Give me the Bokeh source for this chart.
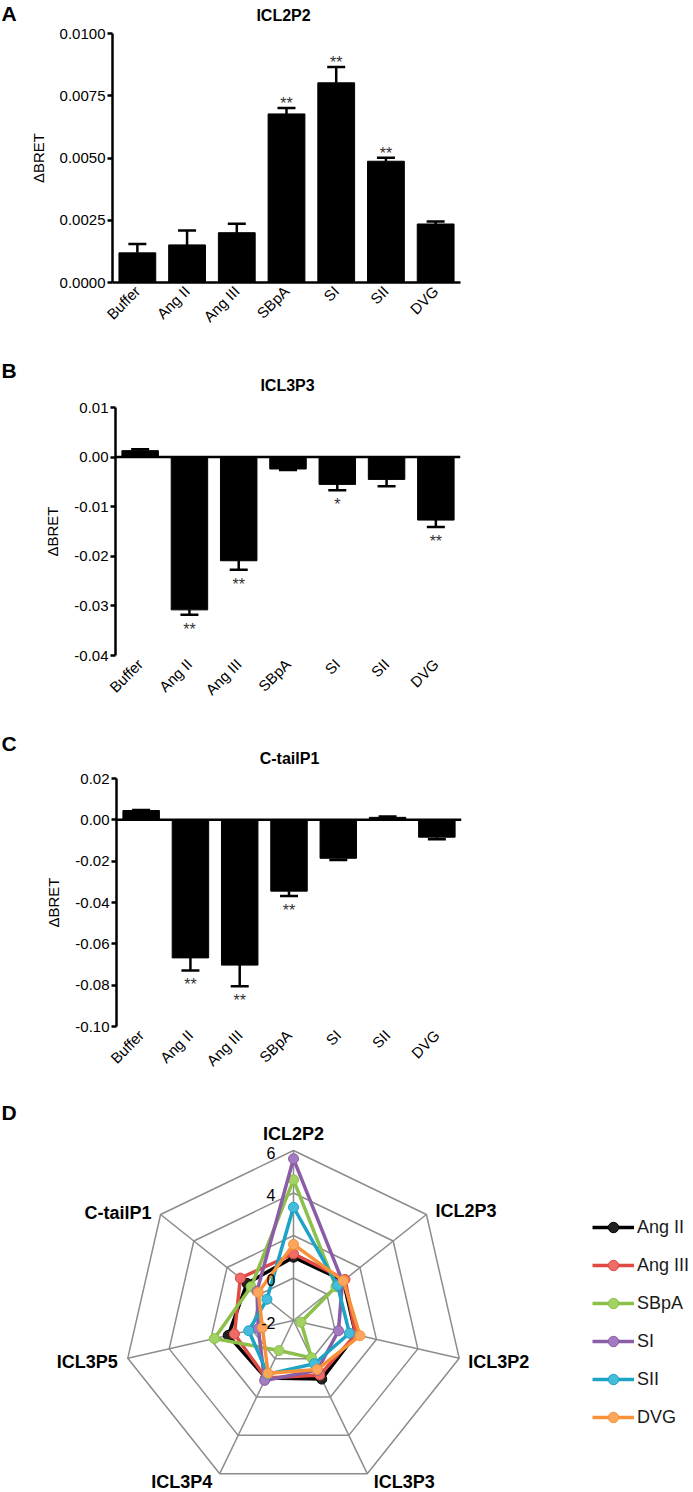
import math
from bokeh.plotting import figure
from bokeh.layouts import column
from bokeh.models import (ColumnDataSource, FactorRange, Range1d, FixedTicker,
                          NumeralTickFormatter, Span, Whisker, TeeHead,
                          Legend, LegendItem)
from bokeh.core.properties import value
from bokeh.embed import file_html
from bokeh.resources import INLINE

FONT = "Liberation Sans"

# ---------------- data ----------------
categories = ["Buffer", "Ang II", "Ang III", "SBpA", "SI", "SII", "DVG"]

icl2p2_mean = [0.00119, 0.00151, 0.00200, 0.00677, 0.00802, 0.00487, 0.00235]
icl2p2_sem = [0.00036, 0.00058, 0.00036, 0.00024, 0.00063, 0.00014, 0.00010]
icl2p2_sig = ["", "", "", "**", "**", "**", ""]
icl2p2_ticks = [0.0, 0.0025, 0.005, 0.0075, 0.01]

icl3p3_mean = [0.0013, -0.0308, -0.0209, -0.0024, -0.0055, -0.0045, -0.0127]
icl3p3_sem = [0.0003, 0.0010, 0.0018, 0.0002, 0.0012, 0.0014, 0.0014]
icl3p3_sig = ["", "**", "**", "", "*", "", "**"]
icl3p3_ticks = [0.01, 0.0, -0.01, -0.02, -0.03, -0.04]

ctail_mean = [0.0045, -0.0668, -0.0703, -0.0345, -0.0186, 0.0012, -0.0084]
ctail_sem = [0.0003, 0.0061, 0.0102, 0.0023, 0.0008, 0.0004, 0.0010]
ctail_sig = ["", "**", "**", "**", "", "", ""]
ctail_ticks = [0.02, 0.0, -0.02, -0.04, -0.06, -0.08, -0.10]

radar_axes = ["ICL2P2", "ICL2P3", "ICL3P2", "ICL3P3", "ICL3P4", "ICL3P5", "C-tailP1"]
radar_ticks = [-2, 0, 2, 4, 6]
radar_tick_labels = ["-2", "0", "", "4", "6"]   # "2" is hidden behind the series
radar_series = ["Ang II", "Ang III", "SBpA", "SI", "SII", "DVG"]
r_ang2 = [0.98, 1.00, 1.00, 1.06, 1.00, 1.15, 0.80]
r_ang3 = [1.14, 1.10, 1.00, 0.85, 1.00, 0.85, 1.20]
r_sbpa = [4.62, 0.55, -1.64, -0.05, -0.43, 1.82, 0.55]
r_si = [5.61, 0.95, 0.17, 0.60, 1.13, -0.30, 0.20]
r_sii = [3.33, 0.65, 0.70, 0.26, 0.80, 0.16, -0.40]
r_dvg = [1.58, 1.00, 1.21, 0.56, 0.76, -0.50, 0.12]
radar_values = [r_ang2, r_ang3, r_sbpa, r_si, r_sii, r_dvg]

line_colors = ["#000000", "#E04A45", "#8CC04A", "#8A5DA6", "#1CA3C5", "#F7923A"]
fill_colors = ["#222222", "#EE6B66", "#A2D262", "#A47BC0", "#45BDDA", "#FBA65A"]

W = 693


def no_align(p):
    if "frame_align" in p.properties():
        p.frame_align = False


def header(y0, y1, letter, letter_y, title, title_x, title_y):
    h = figure(width=W, height=y1 - y0, x_range=Range1d(0, W),
               y_range=Range1d(y1, y0), output_backend="svg",
               toolbar_location=None, x_axis_location=None,
               y_axis_location=None, min_border=0)
    h.outline_line_color = None
    h.grid.visible = False
    no_align(h)
    h.text(x=[1], y=[letter_y], text=[letter], text_align="left",
           text_baseline="middle", text_font=value(FONT),
           text_font_size="21px", text_font_style="bold", text_color="black")
    h.text(x=[title_x], y=[title_y], text=[title], text_align="center",
           text_baseline="middle", text_font=value(FONT),
           text_font_size="16px", text_font_style="bold", text_color="black")
    return h


def bar_panel(mean, sem, sig, y_lo, y_hi, ticks, fmt, height, borders, zero_line):
    bt, bb, bl, br = borders
    p = figure(width=W, height=height, x_range=FactorRange(factors=categories),
               y_range=Range1d(y_lo, y_hi), output_backend="svg",
               toolbar_location=None, min_border_top=bt, min_border_bottom=bb,
               min_border_left=bl, min_border_right=br)
    p.outline_line_color = None
    p.xgrid.visible = False
    p.ygrid.visible = False
    no_align(p)

    src = ColumnDataSource(dict(cat=categories, mean=mean))
    p.vbar(x="cat", top="mean", bottom=0, width=0.74, fill_color="black",
           line_color="black", source=src)

    up = [i for i, m in enumerate(mean) if m >= 0]
    dn = [i for i, m in enumerate(mean) if m < 0]
    if up:
        s_up = ColumnDataSource(dict(cat=[categories[i] for i in up],
                                     lower=[mean[i] for i in up],
                                     upper=[mean[i] + sem[i] for i in up]))
        p.add_layout(Whisker(source=s_up, base="cat", lower="lower", upper="upper",
                             dimension="height", line_width=2.5, line_color="black",
                             lower_head=None,
                             upper_head=TeeHead(size=18, line_width=2.5, line_color="black")))
    if dn:
        s_dn = ColumnDataSource(dict(cat=[categories[i] for i in dn],
                                     lower=[mean[i] - sem[i] for i in dn],
                                     upper=[mean[i] for i in dn]))
        p.add_layout(Whisker(source=s_dn, base="cat", lower="lower", upper="upper",
                             dimension="height", line_width=2.5, line_color="black",
                             upper_head=None,
                             lower_head=TeeHead(size=18, line_width=2.5, line_color="black")))

    su = [i for i in up if sig[i]]
    sd = [i for i in dn if sig[i]]
    if su:
        p.text(x=[categories[i] for i in su], y=[mean[i] + sem[i] for i in su],
               text=[sig[i] for i in su], text_align="center", text_baseline="bottom",
               y_offset=4, text_font=value(FONT), text_font_size="16px",
               text_color="#333333")
    if sd:
        p.text(x=[categories[i] for i in sd], y=[mean[i] - sem[i] for i in sd],
               text=[sig[i] for i in sd], text_align="center", text_baseline="top",
               y_offset=6, text_font=value(FONT), text_font_size="16px",
               text_color="#333333")

    if zero_line:
        p.add_layout(Span(location=0, dimension="width", line_width=2.5,
                          line_color="black"))

    yax = p.yaxis[0]
    yax.ticker = FixedTicker(ticks=ticks)
    yax.formatter = NumeralTickFormatter(format=fmt)
    yax.axis_label = "ΔBRET"
    yax.axis_label_text_font = FONT
    yax.axis_label_text_font_size = "15px"
    yax.axis_label_text_font_style = "normal"
    yax.axis_label_text_color = "black"
    yax.axis_label_standoff = 10
    yax.major_label_text_font = FONT
    yax.major_label_text_font_size = "15px"
    yax.major_label_text_color = "black"
    yax.major_label_standoff = 2
    yax.major_tick_out = 5
    yax.major_tick_in = 0
    yax.minor_tick_out = 0
    yax.minor_tick_in = 0
    yax.major_tick_line_width = 2.5
    yax.axis_line_width = 2.5

    xax = p.xaxis[0]
    xax.major_label_orientation = math.pi / 4
    xax.major_label_text_font = FONT
    xax.major_label_text_font_size = "15px"
    xax.major_label_text_color = "black"
    xax.major_label_standoff = 6
    xax.major_tick_out = 0
    xax.major_tick_in = 0
    if zero_line:
        xax.axis_line_color = None
    else:
        xax.axis_line_width = 2.5
    return p


hA = header(0, 24, "A", 13, "ICL2P2", 283, 15)
pA = bar_panel(icl2p2_mean, icl2p2_sem, icl2p2_sig, 0.0, 0.01, icl2p2_ticks,
               "0.0000", 336, (9, 78, 112, 233), False)
hB = header(360, 395, "B", 370, "ICL3P3", 287, 385)
pB = bar_panel(icl3p3_mean, icl3p3_sem, icl3p3_sig, -0.04, 0.01, icl3p3_ticks,
               "0.00", 330, (12, 70, 115, 233), True)
hC = header(725, 766, "C", 743, "C-tailP1", 289, 758)
pC = bar_panel(ctail_mean, ctail_sem, ctail_sig, -0.10, 0.02, ctail_ticks,
               "0.00", 324, (12, 64, 116, 232), True)

# ---------------- radar (panel D) ----------------
D_TOP, D_H = 1090, 402
pD = figure(width=W, height=D_H, x_range=Range1d(0, W),
            y_range=Range1d(D_TOP + D_H, D_TOP), output_backend="svg",
            toolbar_location=None, x_axis_location=None, y_axis_location=None,
            min_border=0)
pD.outline_line_color = None
pD.grid.visible = False
no_align(pD)

cx, cy, R = 293.0, 1320.0, 170.0
n = len(radar_axes)
angles = [2 * math.pi * k / n for k in range(n)]
vmin, vmax = radar_ticks[0], radar_ticks[-1]


def rpt(v, k):
    r = (v - vmin) / (vmax - vmin) * R
    return cx + r * math.sin(angles[k]), cy - r * math.cos(angles[k])


grid_col = "#8c8c8c"
ring_xs, ring_ys = [], []
for t in radar_ticks[1:]:
    pts = [rpt(t, k) for k in range(n)] + [rpt(t, 0)]
    ring_xs.append([q[0] for q in pts])
    ring_ys.append([q[1] for q in pts])
pD.multi_line(ring_xs, ring_ys, line_color=grid_col, line_width=1.5)
outer = [rpt(vmax, k) for k in range(n)]
pD.segment(x0=[cx] * n, y0=[cy] * n, x1=[q[0] for q in outer],
           y1=[q[1] for q in outer], line_color=grid_col, line_width=1.5)

# axis category labels
lab_off = {"ICL2P2": (0, -17, "center"), "ICL2P3": (9, -4, "left"),
           "ICL3P2": (9, 4, "left"), "ICL3P3": (37, 8, "center"),
           "ICL3P4": (-38, 8, "center"), "ICL3P5": (-10, 4, "right"),
           "C-tailP1": (-9, -2, "right")}
for align in ("left", "right", "center"):
    xs, ys, ts = [], [], []
    for k, name in enumerate(radar_axes):
        dx, dy, al = lab_off[name]
        if al == align:
            xs.append(outer[k][0] + dx)
            ys.append(outer[k][1] + dy)
            ts.append(name)
    pD.text(x=xs, y=ys, text=ts, text_align=align, text_baseline="middle",
            text_font=value(FONT), text_font_size="18px",
            text_font_style="bold", text_color="black")

items = []
for name, vals, lc, fc in zip(radar_series, radar_values, line_colors, fill_colors):
    pts = [rpt(v, k) for k, v in enumerate(vals)]
    xs = [q[0] for q in pts]
    ys = [q[1] for q in pts]
    lr = pD.line(xs + [xs[0]], ys + [ys[0]], line_color=lc, line_width=3.5,
                 line_join="round")
    sr = pD.scatter(xs, ys, size=10, fill_color=fc, line_color=lc, line_width=1)
    items.append(LegendItem(label=name, renderers=[lr, sr]))

# value labels (drawn over the series)
shown = [(t, s) for t, s in zip(radar_ticks, radar_tick_labels) if s]
pD.text(x=[cx - 18] * len(shown), y=[rpt(t, 0)[1] + 2 for t, s in shown],
        text=[s for t, s in shown], text_align="right",
        text_baseline="middle", text_font=value(FONT), text_font_size="16px",
        text_color="black")

legend = Legend(items=items, location=(592, 62), orientation="vertical",
                label_text_font=FONT, label_text_font_size="18px",
                label_text_color="#1a1a1a",
                glyph_width=42, glyph_height=26, label_height=20,
                label_standoff=3, spacing=12, padding=0, margin=0,
                border_line_color=None, background_fill_alpha=0)
pD.add_layout(legend)

pD.text(x=[1], y=[1112], text=["D"], text_align="left", text_baseline="middle",
        text_font=value(FONT), text_font_size="21px", text_font_style="bold",
        text_color="black")

layout = column(hA, pA, hB, pB, hC, pC, pD)
open("out.html", "w").write(file_html(layout, INLINE))
